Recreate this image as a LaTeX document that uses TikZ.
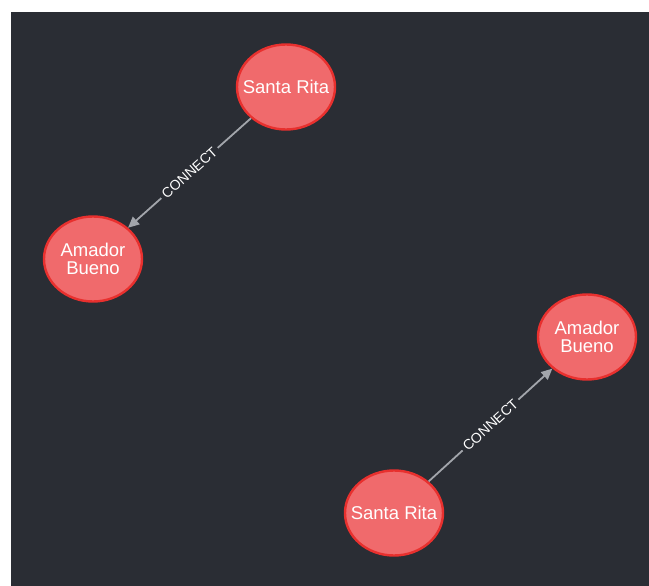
\documentclass[tikz,border=0pt]{standalone}
\usepackage{fontspec}
\setmainfont{Liberation Sans}
\usetikzlibrary{arrows.meta, shapes.geometric}
\definecolor{bgdark}{HTML}{2A2D34}
\definecolor{nodefill}{HTML}{F06A6C}
\definecolor{nodeline}{HTML}{E8302E}
\definecolor{edgegray}{HTML}{A2A5AB}
\tikzstyle{place} = [ellipse, draw=nodeline, fill=nodefill, line width=2.4pt, minimum width=98pt, minimum height=85pt, inner xsep=-9pt, inner ysep=0pt, text=white, align=center, font=\fontsize{18.5}{17.5}\selectfont]
\tikzstyle{link} = [-{Triangle[length=11pt, width=10pt]}, draw=edgegray, line width=1.8pt]
\tikzstyle{linklabel} = [sloped, fill=bgdark, text=white, inner sep=3pt, font=\fontsize{14}{14}\selectfont]

\begin{document}
\begin{tikzpicture}[x=1pt, y=-1pt]
      \useasboundingbox (0, 0) rectangle (649, 586);
      \fill[white] (0, 0) rectangle (649, 586);
      \fill[bgdark] (11, 12) rectangle (649, 586);

      \node[place] (rita1) at (286, 87) {Santa Rita};
      \node[place] (amador1) at (93, 259) {Amador\\Bueno};
      \node[place] (amador2) at (587, 337) {Amador\\Bueno};
      \node[place] (rita2) at (394, 513) {Santa Rita};

      \draw[link] (rita1) -- node[linklabel] {CONNECT} (amador1);
      \draw[link] (rita2) -- node[linklabel] {CONNECT} (amador2);
    \end{tikzpicture}
\end{document}
